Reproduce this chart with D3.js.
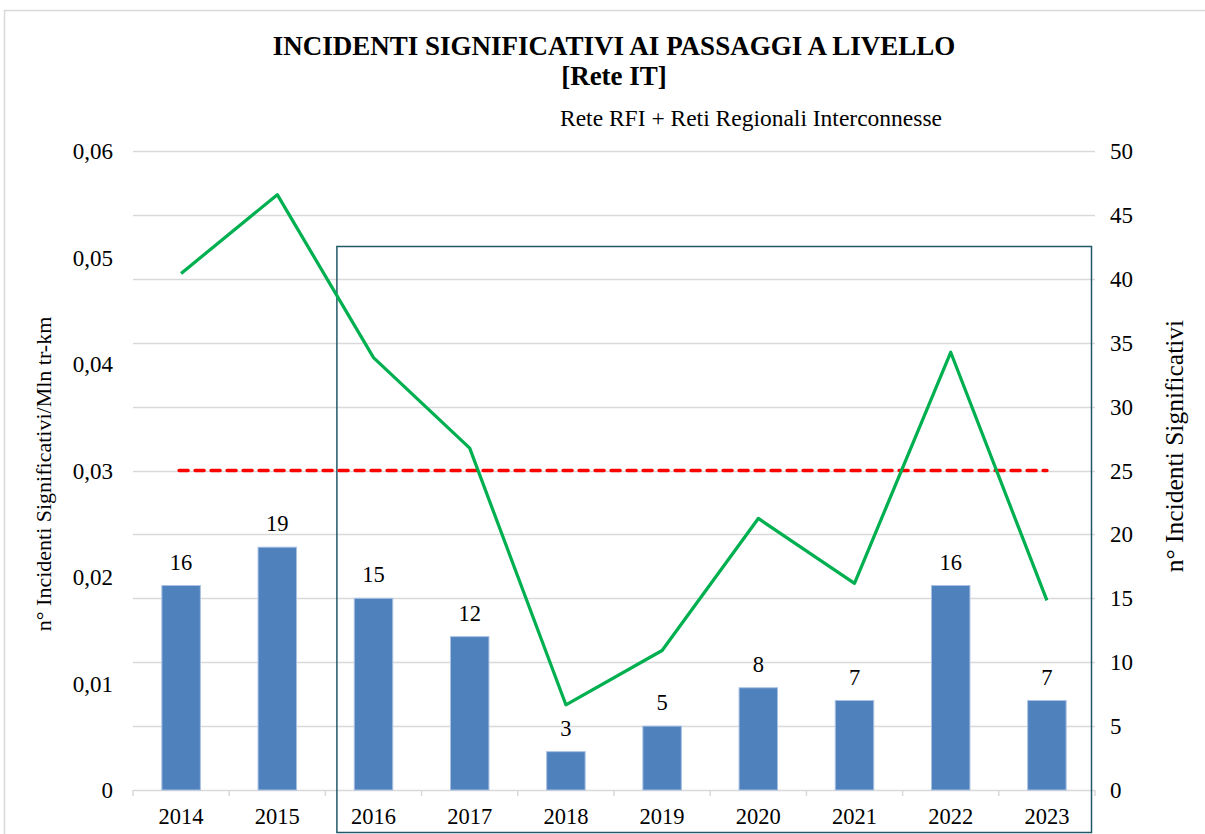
<!DOCTYPE html>
<html>
<head>
<meta charset="utf-8">
<script src="https://cdn.jsdelivr.net/npm/d3@7"></script>
<style>
  body { margin: 0; background: #fff; }
  svg { display: block; }
  svg text { font-family: "Liberation Serif", "Times New Roman", serif; fill: #000; }
</style>
</head>
<body>
<div id="chart"></div>
<script>
'use strict';

var years = ['2014', '2015', '2016', '2017', '2018', '2019', '2020', '2021', '2022', '2023'];
var incidents = [16, 19, 15, 12, 3, 5, 8, 7, 16, 7];
var ratePerMln = [0.0485, 0.0559, 0.0406, 0.0321, 0.0080, 0.0131, 0.0255, 0.0194, 0.0411, 0.0178];
var target = 0.03;
var leftTicks = [0, 0.01, 0.02, 0.03, 0.04, 0.05, 0.06];
var rightTicks = [0, 5, 10, 15, 20, 25, 30, 35, 40, 45, 50];
var highlightFrom = '2016';

var width = 1205,
    height = 834,
    plotLeft = 133,
    plotRight = 1095,
    plotTop = 151,
    plotBottom = 790;

var svg = d3.select('#chart').append('svg')
    .attr('width', width)
    .attr('height', height)
    .attr('viewBox', '0 0 ' + width + ' ' + height);

// outer frame of the chart area
svg.append('rect')
    .attr('x', 4.5)
    .attr('y', 10.5)
    .attr('width', width + 10)
    .attr('height', height + 10)
    .attr('fill', 'none')
    .attr('stroke', '#d9d9d9')
    .attr('stroke-width', 1.5);

var x = d3.scaleBand()
    .domain(years)
    .range([plotLeft, plotRight])
    .paddingInner(0.6)
    .paddingOuter(0.3);

var xCenter = function (d) { return x(d) + x.bandwidth() / 2; };
var step = x.step();

var yLeft = d3.scaleLinear().domain([0, 0.06]).range([plotBottom, plotTop]);
var yRight = d3.scaleLinear().domain([0, 50]).range([plotBottom, plotTop]);

// gridlines
svg.append('g')
    .selectAll('line')
    .data(rightTicks.slice(1))
    .join('line')
    .attr('x1', plotLeft)
    .attr('x2', plotRight)
    .attr('y1', function (d) { return Math.round(yRight(d)) + 0.5; })
    .attr('y2', function (d) { return Math.round(yRight(d)) + 0.5; })
    .attr('stroke', '#d9d9d9')
    .attr('stroke-width', 1.5);

// bottom axis (category boundaries as ticks)
var bounds = d3.range(years.length + 1).map(function (i) { return plotLeft + i * step; });
var xAxisG = svg.append('g');
xAxisG.append('line')
    .attr('x1', plotLeft)
    .attr('x2', plotRight)
    .attr('y1', plotBottom + 0.5)
    .attr('y2', plotBottom + 0.5)
    .attr('stroke', '#d9d9d9')
    .attr('stroke-width', 1.5);
xAxisG.selectAll('line.tick')
    .data(bounds)
    .join('line')
    .attr('class', 'tick')
    .attr('x1', function (d) { return d; })
    .attr('x2', function (d) { return d; })
    .attr('y1', plotBottom)
    .attr('y2', plotBottom + 6)
    .attr('stroke', '#d9d9d9')
    .attr('stroke-width', 1.5);
xAxisG.selectAll('text')
    .data(years)
    .join('text')
    .attr('x', xCenter)
    .attr('y', plotBottom + 34)
    .attr('text-anchor', 'middle')
    .attr('font-size', 22.5)
    .text(function (d) { return d; });

// left axis labels
var fmtLeft = function (d) { return d === 0 ? '0' : d3.format('.2f')(d).replace('.', ','); };
svg.append('g')
    .selectAll('text')
    .data(leftTicks)
    .join('text')
    .attr('x', 113)
    .attr('y', function (d) { return yLeft(d) + 8; })
    .attr('text-anchor', 'end')
    .attr('font-size', 23)
    .text(fmtLeft);

// right axis labels
svg.append('g')
    .selectAll('text')
    .data(rightTicks)
    .join('text')
    .attr('x', 1110)
    .attr('y', function (d) { return yRight(d) + 8; })
    .attr('text-anchor', 'start')
    .attr('font-size', 23)
    .text(function (d) { return d; });

// axis titles
svg.append('text')
    .attr('transform', 'translate(51,474) rotate(-90)')
    .attr('text-anchor', 'middle')
    .attr('font-size', 22)
    .text('n° Incidenti Significativi/Mln tr-km');

svg.append('text')
    .attr('transform', 'translate(1183,446) rotate(-90)')
    .attr('text-anchor', 'middle')
    .attr('font-size', 25.5)
    .text('n° Incidenti Significativi');

// bars
svg.append('g')
    .selectAll('rect')
    .data(years)
    .join('rect')
    .attr('x', function (d) { return x(d); })
    .attr('y', function (d, i) { return yRight(incidents[i]); })
    .attr('width', x.bandwidth())
    .attr('height', function (d, i) { return plotBottom - yRight(incidents[i]); })
    .attr('fill', '#4f81bd')
    .attr('stroke', '#a9c1e3')
    .attr('stroke-width', 1);

// bar labels
svg.append('g')
    .selectAll('text')
    .data(years)
    .join('text')
    .attr('x', xCenter)
    .attr('y', function (d, i) { return yRight(incidents[i]) - 16; })
    .attr('text-anchor', 'middle')
    .attr('font-size', 22.5)
    .text(function (d, i) { return incidents[i]; });

// highlight box around 2016-2023
var boxLeft = plotLeft + years.indexOf(highlightFrom) * step + 11;
svg.append('rect')
    .attr('x', boxLeft + 0.5)
    .attr('y', 246.5)
    .attr('width', 1091 - boxLeft)
    .attr('height', 586)
    .attr('fill', 'none')
    .attr('stroke', '#215968')
    .attr('stroke-width', 1.5);

// target line
svg.append('line')
    .attr('x1', xCenter(years[0]) - 2)
    .attr('x2', xCenter(years[years.length - 1]))
    .attr('y1', yLeft(target))
    .attr('y2', yLeft(target))
    .attr('stroke', '#ff0000')
    .attr('stroke-width', 3.5)
    .attr('stroke-dasharray', '9,7')
    .attr('stroke-linecap', 'round');

// rate line
var line = d3.line()
    .x(function (d, i) { return xCenter(years[i]); })
    .y(function (d) { return yLeft(d); });

svg.append('path')
    .datum(ratePerMln)
    .attr('d', line)
    .attr('fill', 'none')
    .attr('stroke', '#00b050')
    .attr('stroke-width', 3.25)
    .attr('stroke-linejoin', 'round');

// titles
svg.append('text')
    .attr('x', 614)
    .attr('y', 55)
    .attr('text-anchor', 'middle')
    .attr('font-size', 27)
    .attr('font-weight', 'bold')
    .text('INCIDENTI SIGNIFICATIVI AI PASSAGGI A LIVELLO');

svg.append('text')
    .attr('x', 614)
    .attr('y', 85)
    .attr('text-anchor', 'middle')
    .attr('font-size', 27)
    .attr('font-weight', 'bold')
    .text('[Rete IT]');

svg.append('text')
    .attr('x', 751)
    .attr('y', 126)
    .attr('text-anchor', 'middle')
    .attr('font-size', 23.5)
    .text('Rete RFI + Reti Regionali Interconnesse');
</script>
</body>
</html>
